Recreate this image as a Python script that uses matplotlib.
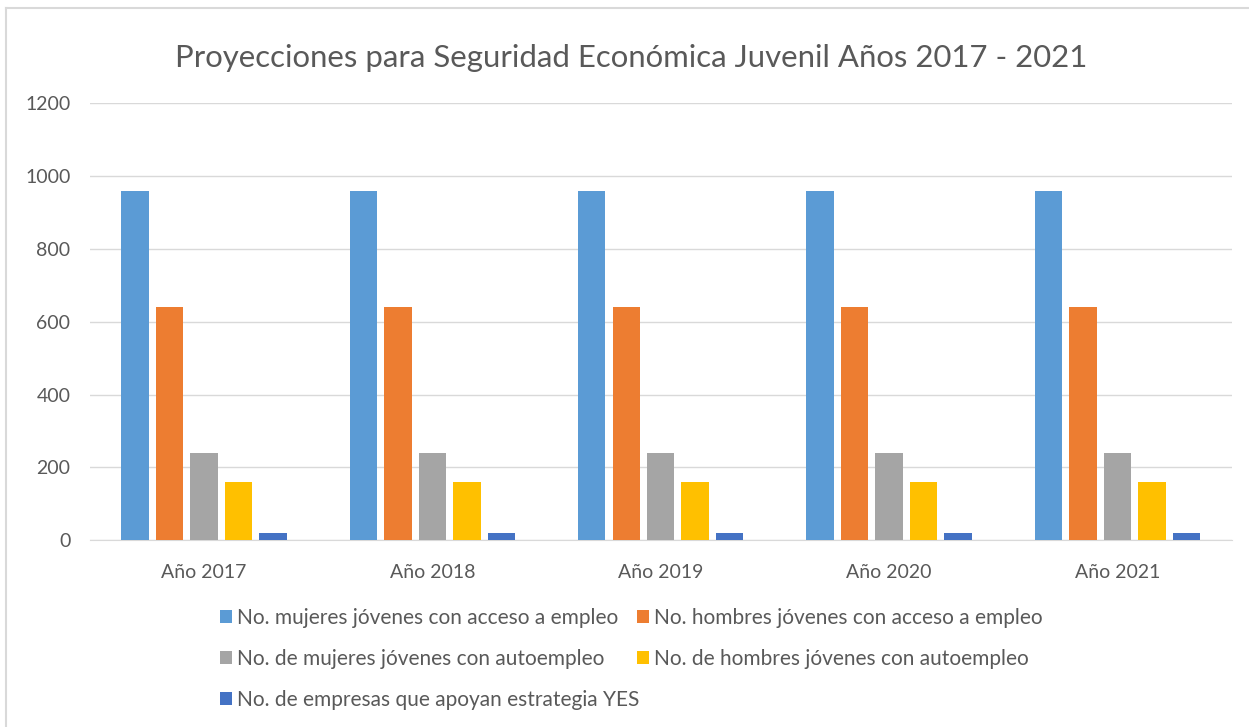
import numpy as np
import matplotlib.pyplot as plt
from matplotlib.lines import Line2D

plt.rcParams['font.family'] = ['Lato', 'DejaVu Sans']

years = ['Año 2017', 'Año 2018', 'Año 2019', 'Año 2020', 'Año 2021']
series = [
    'No. mujeres jóvenes con acceso a empleo',
    'No. hombres jóvenes con acceso a empleo',
    'No. de mujeres jóvenes con autoempleo',
    'No. de hombres jóvenes con autoempleo',
    'No. de empresas que apoyan estrategia YES',
]
mujeres_empleo = [960, 960, 960, 960, 960]
hombres_empleo = [640, 640, 640, 640, 640]
mujeres_auto = [240, 240, 240, 240, 240]
hombres_auto = [160, 160, 160, 160, 160]
empresas = [20, 20, 20, 20, 20]
colors = ['#5B9BD5', '#ED7D31', '#A5A5A5', '#FFC000', '#4472C4']

text_color = '#595959'

fig = plt.figure(figsize=(12.49, 7.27), dpi=100)
ax = fig.add_axes([0.072, 0.257, 0.914, 0.601])

x = np.arange(len(years))
step = 0.151
width = 0.12
data = [mujeres_empleo, hombres_empleo, mujeres_auto, hombres_auto, empresas]
bars = []
for i, (vals, name, c) in enumerate(zip(data, series, colors)):
    bars.append(ax.bar(x + (i - 2) * step, vals, width, color=c, label=name, zorder=3))

ax.set_xlim(-0.5, len(years) - 0.5)
ax.set_ylim(0, 1200)
ax.set_yticks(range(0, 1201, 200))
ax.set_xticks(x)
ax.set_xticklabels(years)
ax.grid(axis='y', color='#D9D9D9', linewidth=1, zorder=0)
for s in ['top', 'right', 'left']:
    ax.spines[s].set_visible(False)
ax.spines['bottom'].set_color('#D9D9D9')
ax.tick_params(axis='both', length=0, labelsize=14, colors=text_color)
ax.tick_params(axis='x', pad=17)
ax.tick_params(axis='y', pad=14)

fig.suptitle('Proyecciones para Seguridad Económica Juvenil Años 2017 - 2021',
             x=0.505, y=0.94, fontsize=22.4, color=text_color)

# row-major order like the original: matplotlib fills legend by columns
order = [0, 2, 4, 1, 3]
leg = fig.legend([bars[i] for i in order], [series[i] for i in order],
                 loc='upper left', bbox_to_anchor=(0.168, 0.178), ncol=2,
                 frameon=False, fontsize=15, handlelength=0.55, handleheight=0.55,
                 handletextpad=0.25, columnspacing=-0.1, labelspacing=1.0,
                 borderpad=0)
for t in leg.get_texts():
    t.set_color(text_color)

# chart area border (only top and left edges show in the original)
fig.lines.append(Line2D([0.005, 1.0], [0.989, 0.989], transform=fig.transFigure,
                        color='#D9D9D9', linewidth=1.5))
fig.lines.append(Line2D([0.005, 0.005], [0.0, 0.989], transform=fig.transFigure,
                        color='#D9D9D9', linewidth=1.5))

fig.savefig('out.png', dpi=100)
